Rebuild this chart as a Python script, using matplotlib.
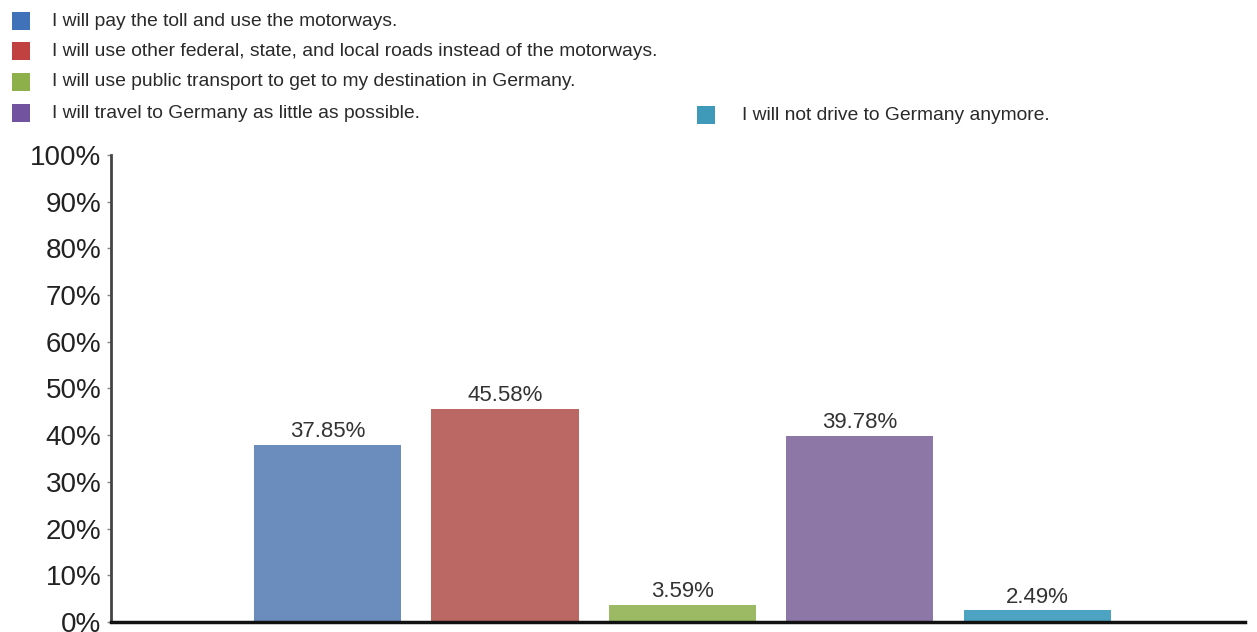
import matplotlib.pyplot as plt
from matplotlib.patches import Rectangle

# -----------------------------
# Data
# -----------------------------
ANSWERS = [
    "I will pay the toll and use the motorways.",
    "I will use other federal, state, and local roads instead of the motorways.",
    "I will use public transport to get to my destination in Germany.",
    "I will travel to Germany as little as possible.",
    "I will not drive to Germany anymore.",
]
SHARES = [37.85, 45.58, 3.59, 39.78, 2.49]
Y_TICKS = [0, 10, 20, 30, 40, 50, 60, 70, 80, 90, 100]

BAR_COLORS = ["#6A8DBE", "#BB6864", "#9BBA63", "#8D77A6", "#4CA3C2"]
KEY_COLORS = ["#3F72B8", "#C0413F", "#8EB04A", "#71539F", "#3E9AB8"]

LEGEND_FONT = ["Liberation Sans Narrow", "Liberation Sans", "DejaVu Sans"]
AXIS_FONT = ["Liberation Sans", "DejaVu Sans"]

fig = plt.figure(figsize=(12.57, 6.32), dpi=100)
ax = fig.add_axes([0.0883, 0.0158, 0.902, 0.7392])

x = range(len(SHARES))
bars = ax.bar(x, SHARES, width=0.83, color=BAR_COLORS)

for bar, v in zip(bars, SHARES):
    ax.text(
        bar.get_x() + bar.get_width() / 2,
        v + 0.6,
        f"{v:.2f}%",
        ha="center",
        va="bottom",
        fontsize=16,
        color="#333333",
        family=AXIS_FONT
    )

ax.set_xlim(-1.22, 5.17)
ax.set_ylim(0, 100)
ax.set_yticks(Y_TICKS)
ax.set_yticklabels([f"{t}%" for t in Y_TICKS], fontsize=20, color="#222222", family=AXIS_FONT)
ax.set_xticks([])
ax.tick_params(axis="y", length=3, width=1, color="#888888", pad=4)

for side in ["top", "right"]:
    ax.spines[side].set_visible(False)
ax.spines["left"].set_color("#444444")
ax.spines["left"].set_linewidth(2)
ax.spines["bottom"].set_color("#111111")
ax.spines["bottom"].set_linewidth(2.5)

# -----------------------------
# Legend (hand placed, figure pixels)
# -----------------------------
W, H = 1257, 632
key_pos = [(12, 21), (12, 51), (12, 82), (12, 113), (697, 115)]
text_x = [52, 52, 52, 52, 742]
for (kx, ky), tx, label, col in zip(key_pos, text_x, ANSWERS, KEY_COLORS):
    fig.patches.append(Rectangle(
        (kx / W, 1 - (ky + 9) / H), 18 / W, 18 / H,
        transform=fig.transFigure, facecolor=col, edgecolor="none"
    ))
    fig.text(tx / W, 1 - ky / H, label, fontsize=13.9, color="#2A2A2A",
             va="center", ha="left", family=LEGEND_FONT)

fig.savefig("out.png", dpi=100)
